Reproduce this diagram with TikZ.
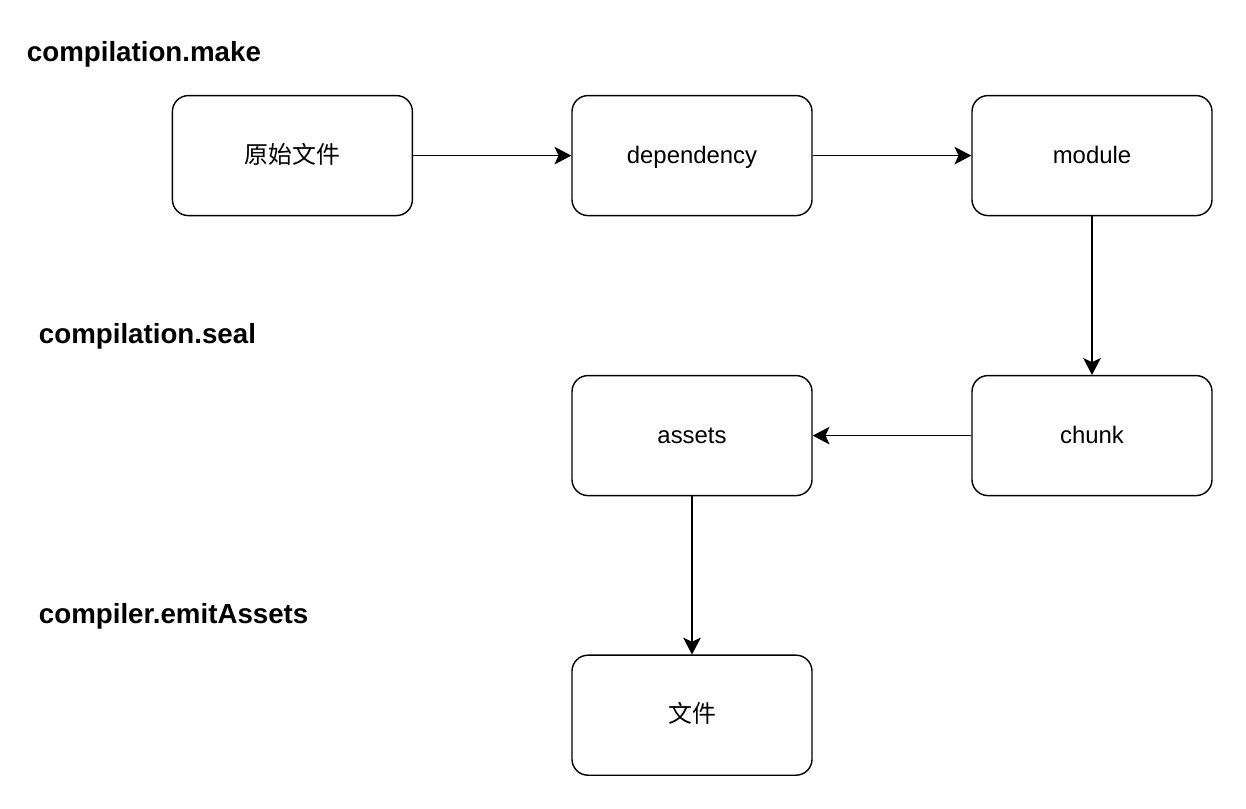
\documentclass[tikz,border=0pt]{standalone}
\usepackage{fontspec}
\setmainfont{Liberation Sans}
\newfontfamily\cjk{Noto Sans CJK SC}
\usetikzlibrary{arrows.meta}

\tikzset{
  stage/.style={draw, line width=1pt, rounded corners=0.4cm, minimum width=6cm,
    minimum height=3cm, fill=white, text height=13pt, text depth=2pt,
    font=\fontsize{17}{20}\selectfont},
  phase/.style={anchor=west, font=\fontsize{19.7}{24}\selectfont\bfseries},
  flow/.style={-{Stealth[length=0.42cm, width=0.44cm, inset=0.1cm]}, line width=1pt}
}

\begin{document}
\begin{tikzpicture}
  \useasboundingbox (0,0) rectangle (31.15,20.2);

  % Phase labels
  \node[phase] (make) at (0.55,18.83) {compilation.make};
  \node[phase] (seal) at (0.85,11.8) {compilation.seal};
  \node[phase] (emit) at (0.85,4.8) {compiler.emitAssets};

  % Boxes
  \node[stage] (raw) at (7.31,16.31) {\cjk 原始文件};
  \node[stage] (dep) at (17.3,16.31) {dependency};
  \node[stage] (mod) at (27.3,16.31) {module};
  \node[stage] (chunk) at (27.3,9.31) {chunk};
  \node[stage] (assets) at (17.3,9.31) {assets};
  \node[stage] (file) at (17.3,2.32) {\cjk 文件};

  % Flow
  \draw[flow] (raw) -- (dep);
  \draw[flow] (dep) -- (mod);
  \draw[flow] (mod) -- (chunk);
  \draw[flow] (chunk) -- (assets);
  \draw[flow] (assets) -- (file);
\end{tikzpicture}
\end{document}
